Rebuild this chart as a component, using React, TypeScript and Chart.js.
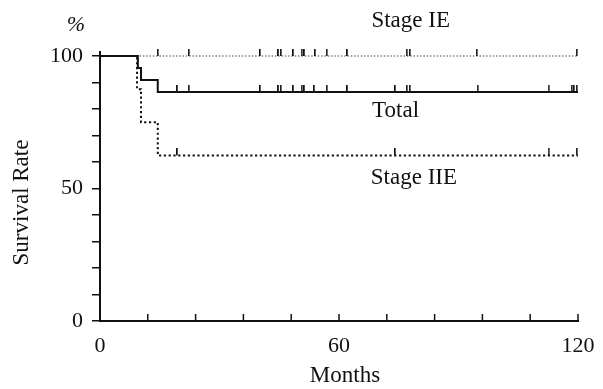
import React, { useEffect, useRef } from 'react';
import { Chart, registerables } from 'chart.js';

Chart.register(...registerables);

// ---- Data ----
const totalMonths = [0, 9.5, 10.3, 14.5, 120];
const totalSurvival = [100, 95.5, 90.9, 86.4, 86.4];

const stageIEMonths = [0, 120];
const stageIESurvival = [100, 100];

const stageIIEMonths = [0, 9.3, 10.3, 14.5, 120];
const stageIIESurvival = [100, 87.5, 75, 62.5, 62.5];

const totalCensored = [19.4, 22.3, 40.2, 44.8, 45.4, 48.5, 50.6, 51.3, 53.8, 56.9, 62.1, 74.1, 77.0, 77.8, 94.8, 112.6, 118.4, 119.0, 119.7];
const stageIECensored = [14.5, 22.3, 40.2, 44.8, 45.4, 48.5, 50.6, 51.3, 54.0, 56.9, 62.1, 77.0, 77.8, 94.6, 119.7];
const stageIIECensored = [19.4, 74.1, 112.6, 119.7];

const xTickLabels = [0, 60, 120];
const yTickLabels = [0, 50, 100];

const seriesLabels = ['Total', 'Stage IE', 'Stage IIE'];
// annotation anchor points in data units [month, percent]
const labelMonths = [74.2, 78.0, 78.8];
const labelPercents = [79.2, 113.3, 54.0];

const FONT = '"Liberation Serif", "Times New Roman", serif';
const INK = '#111';

function survivalAt(months: number[], surv: number[], t: number): number {
  let v = surv[0];
  for (let i = 0; i < months.length; i++) {
    if (months[i] <= t) v = surv[i];
  }
  return v;
}

function toPoints(xs: number[], ys: number[]) {
  return xs.map((x, i) => ({ x, y: ys[i] }));
}

function censorPoints(times: number[], months: number[], surv: number[]) {
  return times.map((t) => ({ x: t, y: survivalAt(months, surv, t) }));
}

export default function App() {
  const canvasRef = useRef<HTMLCanvasElement | null>(null);

  useEffect(() => {
    const canvas = canvasRef.current;
    if (!canvas) return;

    // censor mark: an upward tick drawn above the point
    const tick = document.createElement('canvas');
    tick.width = 2;
    tick.height = 14;
    const tctx = tick.getContext('2d')!;
    tctx.fillStyle = INK;
    tctx.fillRect(0, 0, 1.6, 7);

    const extras = {
      id: 'extras',
      afterDraw(chart: any) {
        const { ctx, chartArea, scales } = chart;
        const xs = scales.x;
        const ys = scales.y;
        ctx.save();
        // inward x ticks
        ctx.strokeStyle = INK;
        ctx.lineWidth = 1.5;
        xs.ticks.forEach((t: any) => {
          const px = xs.getPixelForValue(t.value);
          ctx.beginPath();
          ctx.moveTo(px, chartArea.bottom);
          ctx.lineTo(px, chartArea.bottom - 7);
          ctx.stroke();
        });
        // y axis slight overshoot above 100
        ctx.lineWidth = 2;
        ctx.beginPath();
        ctx.moveTo(chartArea.left, chartArea.top);
        ctx.lineTo(chartArea.left, chartArea.top - 5);
        ctx.stroke();
        ctx.fillStyle = INK;
        ctx.textAlign = 'center';
        ctx.textBaseline = 'middle';
        // series labels
        ctx.font = `23px ${FONT}`;
        seriesLabels.forEach((lab, i) => {
          ctx.fillText(lab, xs.getPixelForValue(labelMonths[i]), ys.getPixelForValue(labelPercents[i]));
        });
        // axis titles
        ctx.fillText('Months', (chartArea.left + chartArea.right) / 2 + 6, chartArea.bottom + 55);
        ctx.save();
        ctx.translate(22, (chartArea.top + chartArea.bottom) / 2 + 14);
        ctx.rotate(-Math.PI / 2);
        ctx.fillText('Survival Rate', 0, 0);
        ctx.restore();
        ctx.font = `italic 22px ${FONT}`;
        ctx.fillText('%', chartArea.left - 24, chartArea.top - 31);
        ctx.restore();
      },
    };

    const chart = new Chart(canvas, {
      type: 'line',
      data: {
        datasets: [
          {
            label: 'Total',
            data: toPoints(totalMonths, totalSurvival),
            borderColor: INK,
            borderWidth: 2,
            stepped: 'before',
            pointRadius: 0,
            clip: false,
            order: 1,
          },
          {
            label: 'Stage IE',
            data: toPoints(stageIEMonths, stageIESurvival),
            borderColor: '#444',
            borderWidth: 1.2,
            borderDash: [1.5, 1.8],
            stepped: 'before',
            pointRadius: 0,
            clip: false,
            order: 3,
          },
          {
            label: 'Stage IIE',
            data: toPoints(stageIIEMonths, stageIIESurvival),
            borderColor: INK,
            borderWidth: 2,
            borderDash: [2.2, 2.6],
            stepped: 'before',
            pointRadius: 0,
            clip: false,
            order: 2,
          },
          {
            label: 'Total censored',
            data: censorPoints(totalCensored, totalMonths, totalSurvival),
            showLine: false,
            pointStyle: tick as any,
            pointRadius: 5,
            clip: false,
            order: 0,
          },
          {
            label: 'Stage IE censored',
            data: censorPoints(stageIECensored, stageIEMonths, stageIESurvival),
            showLine: false,
            pointStyle: tick as any,
            pointRadius: 5,
            clip: false,
            order: 0,
          },
          {
            label: 'Stage IIE censored',
            data: censorPoints(stageIIECensored, stageIIEMonths, stageIIESurvival),
            showLine: false,
            pointStyle: tick as any,
            pointRadius: 5,
            clip: false,
            order: 0,
          },
        ],
      },
      options: {
        responsive: false,
        animation: false,
        events: [],
        layout: { padding: { top: 56, right: 25, left: 0, bottom: 0 } },
        plugins: {
          legend: { display: false },
          tooltip: { enabled: false },
        },
        scales: {
          x: {
            type: 'linear',
            min: 0,
            max: 120,
            afterFit: (s: any) => {
              s.height = 68;
              s.paddingLeft = 0;
              s.paddingRight = 0;
            },
            ticks: {
              stepSize: 12,
              autoSkip: false,
              maxRotation: 0,
              padding: 12,
              color: INK,
              font: { family: FONT, size: 22 },
              callback: (v: any) => (xTickLabels.includes(Number(v)) ? String(v) : ''),
            },
            grid: { drawOnChartArea: false, drawTicks: false, color: INK },
            border: { display: true, width: 2, color: INK },
          },
          y: {
            type: 'linear',
            min: 0,
            max: 100,
            afterFit: (s: any) => {
              s.width = 100;
              s.paddingTop = 0;
              s.paddingBottom = 0;
            },
            ticks: {
              stepSize: 10,
              autoSkip: false,
              padding: 9,
              color: INK,
              font: { family: FONT, size: 22 },
              callback: (v: any) => (yTickLabels.includes(Number(v)) ? String(v) : ''),
            },
            grid: { drawOnChartArea: false, drawTicks: true, tickLength: 8, color: INK, lineWidth: 1.5 },
            border: { display: true, width: 2, color: INK },
          },
        },
      },
      plugins: [extras],
    });

    return () => {
      chart.destroy();
    };
  }, []);

  return (
    <div style={{ position: 'fixed', left: 0, top: 0, width: 603, height: 389, background: '#fff' }}>
      <canvas ref={canvasRef} width={603} height={389} />
    </div>
  );
}
